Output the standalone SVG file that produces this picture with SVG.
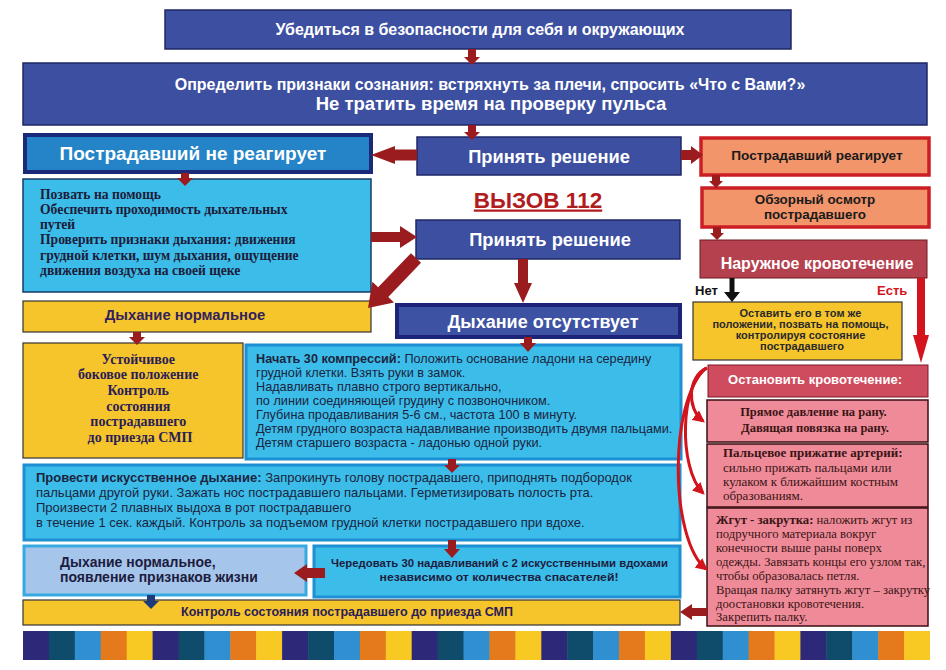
<svg xmlns="http://www.w3.org/2000/svg" width="946" height="670" viewBox="0 0 946 670">
<style>
.navy{fill:#3c4fa0;stroke:#1f2766;stroke-width:1.5}
.navyb{fill:#3d52a3;stroke:#1e237a;stroke-width:4}
.blue{fill:#2584c8;stroke:#1b2a78;stroke-width:4}
.cyan1{fill:#3cbde9;stroke:#173a66;stroke-width:1.5}
.cyan{fill:#3cbde9;stroke:#1d8fd2;stroke-width:3}
.ltblue{fill:#a6c5ea;stroke:#36a9e0;stroke-width:3}
.yel{fill:#f6c52b;stroke:#333;stroke-width:1.2}
.salmon{fill:#f2956a;stroke:#cc1f24;stroke-width:3.5}
.rose{fill:#b5404e;stroke:#6b1a22;stroke-width:1}
.rose2{fill:#cf4b5e;stroke:#7a1a25;stroke-width:1}
.pink{fill:#ef8b99;stroke:#3b0d12;stroke-width:1.5}
.s{font-family:"Liberation Sans",Arial,sans-serif}
.r{font-family:"Liberation Serif","Times New Roman",serif}
.b{font-weight:bold}
.w{fill:#ffffff}
.c{text-anchor:middle}
.arr{fill:#9b1c1f}
.curve{fill:none;stroke:#d3141c;stroke-width:3}
</style>
<defs>
<marker id="rh" viewBox="0 0 10 10" refX="8" refY="5" markerWidth="4" markerHeight="4" orient="auto" markerUnits="strokeWidth">
<path d="M0,0 L10,5 L0,10 z" fill="#d3141c"/>
</marker>
</defs>
<rect width="946" height="670" fill="#ffffff"/>

<g id="n-safety">
<rect class="navy" x="165" y="10" width="626" height="39"/>
<text class="s b w c" x="480" y="34.5" font-size="16">Убедиться в безопасности для себя и окружающих</text>
</g>
<g id="n-consciousness">
<rect class="navy" x="23" y="63" width="904" height="62"/>
<text class="s b w c" x="490" y="89.5" font-size="16">Определить признаки сознания: встряхнуть за плечи, спросить «Что с Вами?»</text>
<text class="s b w c" x="491" y="110" font-size="18.5">Не тратить время на проверку пульса</text>
</g>
<g id="n-noreact">
<rect class="blue" x="25" y="135" width="346" height="37"/>
<text class="s b w c" x="193" y="159.5" font-size="19">Пострадавший не реагирует</text>
</g>
<g id="n-decide1">
<rect class="navy" x="417" y="137" width="264" height="38"/>
<text class="s b w c" x="549" y="163" font-size="18.3">Принять решение</text>
</g>
<g id="n-react">
<rect class="salmon" x="701" y="138" width="228" height="37"/>
<text class="s b c" x="817" y="160" font-size="13.6" fill="#1a1a1a">Пострадавший реагирует</text>
</g>
<g id="n-survey">
<rect class="salmon" x="702" y="188" width="227" height="39"/>
<text class="s b c" x="815" y="204" font-size="13.4" fill="#1a1a1a">Обзорный осмотр</text>
<text class="s b c" x="815" y="218.5" font-size="13.4" fill="#1a1a1a">пострадавшего</text>
</g>
<g id="n-bleeding">
<rect class="rose" x="700" y="240" width="227" height="38"/>
<text class="s b w c" x="817" y="269" font-size="16">Наружное кровотечение</text>
</g>
<g id="n-help">
<rect class="cyan1" x="23" y="179" width="348" height="113"/>
<text class="r b" font-size="13.6" fill="#1c1c3a">
<tspan x="40" y="198.5">Позвать на помощь</tspan>
<tspan x="40" y="213.8">Обеспечить проходимость дыхательных</tspan>
<tspan x="40" y="229.1">путей</tspan>
<tspan x="40" y="244.4">Проверить признаки дыхания: движения</tspan>
<tspan x="40" y="259.7">грудной клетки, шум дыхания, ощущение</tspan>
<tspan x="40" y="275">движения воздуха на своей щеке</tspan>
</text>
</g>
<g id="n-call112">
<text class="s b c" x="538" y="207.5" font-size="22.5" fill="#b01c20" text-decoration="underline">ВЫЗОВ 112</text>
</g>
<g id="n-decide2">
<rect class="navy" x="416" y="220" width="264" height="39" fill="#3b55a5"/>
<text class="s b w c" x="550" y="245.5" font-size="18.3">Принять решение</text>
</g>
<g id="n-breathok">
<rect class="yel" x="23" y="301" width="348" height="31"/>
<text class="s b c" x="185" y="319.5" font-size="14.8" fill="#33215e">Дыхание нормальное</text>
</g>
<g id="n-nobreath">
<rect class="navyb" x="397" y="305" width="283" height="32"/>
<text class="s b w c" x="543" y="327.5" font-size="18">Дыхание отсутствует</text>
</g>
<g id="n-recovery">
<rect class="yel" x="23" y="343" width="220" height="115"/>
<text class="r b c" font-size="14" fill="#2b1d57">
<tspan x="140" y="363.5">Устойчивое</tspan>
<tspan x="140" y="379">боковое положение</tspan>
<tspan x="140" y="395">Контроль</tspan>
<tspan x="140" y="410.5">состояния</tspan>
<tspan x="140" y="425.5">пострадавшего</tspan>
<tspan x="140" y="441.5">до приезда СМП</tspan>
</text>
</g>
<g id="n-compress">
<rect class="cyan" x="246" y="345" width="435" height="114"/>
<text class="s" font-size="12.7" fill="#1b2440">
<tspan x="256" y="363"><tspan font-weight="bold">Начать 30 компрессий:</tspan> Положить основание ладони на середину</tspan>
<tspan x="256" y="377"> грудной клетки. Взять руки в замок.</tspan>
<tspan x="256" y="391">Надавливать плавно строго вертикально,</tspan>
<tspan x="256" y="405">по линии соединяющей грудину с позвоночником.</tspan>
<tspan x="256" y="419">Глубина продавливания 5-6 см., частота 100 в минуту.</tspan>
<tspan x="256" y="433">Детям грудного возраста надавливание производить двумя пальцами.</tspan>
<tspan x="256" y="447">Детям старшего возраста - ладонью одной руки.</tspan>
</text>
</g>
<g id="n-ventilate">
<rect class="cyan" x="24" y="465" width="656" height="75"/>
<text class="s" font-size="13" fill="#1b2440">
<tspan x="36" y="482"><tspan font-weight="bold">Провести искусственное дыхание:</tspan> Запрокинуть голову пострадавшего, приподнять подбородок</tspan>
<tspan x="36" y="497">пальцами другой руки. Зажать нос пострадавшего пальцами. Герметизировать полость рта.</tspan>
<tspan x="36" y="512"> Произвести 2 плавных выдоха в рот пострадавшего</tspan>
<tspan x="36" y="527">в течение 1 сек. каждый. Контроль за подъемом грудной клетки пострадавшего при вдохе.</tspan>
</text>
</g>
<g id="n-alive">
<rect class="ltblue" x="24" y="546" width="282" height="49"/>
<text class="s b" font-size="14" fill="#1c1c40">
<tspan x="60" y="567">Дыхание нормальное,</tspan>
<tspan x="60" y="582">появление признаков жизни</tspan>
</text>
</g>
<g id="n-alternate">
<rect class="cyan" x="314" y="546" width="366" height="51"/>
<text class="s b c" font-size="11" fill="#1c1c40">
<tspan x="501" y="567" textLength="337" lengthAdjust="spacingAndGlyphs">Чередовать 30 надавливаний с 2 искусственными вдохами</tspan>
<tspan x="499" y="581" textLength="239" lengthAdjust="spacingAndGlyphs">независимо от количества спасателей!</tspan>
</text>
</g>
<g id="n-monitor">
<rect class="yel" x="23" y="600" width="657" height="25"/>
<text class="s b c" x="347" y="616" font-size="13" fill="#2b1d57" textLength="332" lengthAdjust="spacingAndGlyphs">Контроль состояния пострадавшего до приезда СМП</text>
</g>
<g id="n-leave">
<rect class="yel" x="693" y="302" width="209" height="58"/>
<text class="s b c" font-size="11" fill="#2a2a2a">
<tspan x="802" y="317">Оставить его в том же</tspan>
<tspan x="802" y="328">положении, позвать на помощь,</tspan>
<tspan x="802" y="339">контролируя состояние</tspan>
<tspan x="802" y="350">пострадавшего</tspan>
</text>
</g>
<g id="n-stop">
<rect class="rose2" x="708" y="365" width="220" height="32"/>
<text class="s b w c" x="815" y="384" font-size="13">Остановить кровотечение:</text>
</g>
<g id="n-pressure">
<rect class="pink" x="707" y="400" width="221" height="42"/>
<text class="r b c" font-size="12.5" fill="#3a1515">
<tspan x="815" y="416">Прямое давление на рану.</tspan>
<tspan x="815" y="432">Давящая повязка на рану.</tspan>
</text>
</g>
<g id="n-artery">
<rect class="pink" x="707" y="444" width="221" height="63"/>
<text class="r" font-size="13" fill="#3a1515">
<tspan x="723" y="457" font-weight="bold">Пальцевое прижатие артерий:</tspan>
<tspan x="723" y="472">сильно прижать пальцами или</tspan>
<tspan x="723" y="486">кулаком к ближайшим костным</tspan>
<tspan x="723" y="500">образованиям.</tspan>
</text>
</g>
<g id="n-tourniquet">
<rect class="pink" x="707" y="508" width="221" height="118"/>
<text class="r" font-size="12.7" fill="#3a1515">
<tspan x="716" y="524"><tspan font-weight="bold">Жгут - закрутка:</tspan> наложить жгут из</tspan>
<tspan x="716" y="538">подручного материала вокруг</tspan>
<tspan x="716" y="552">конечности выше раны поверх</tspan>
<tspan x="716" y="566">одежды. Завязать концы его узлом так,</tspan>
<tspan x="716" y="580">чтобы образовалась петля.</tspan>
<tspan x="716" y="594">Вращая палку затянуть жгут – закрутку</tspan>
<tspan x="716" y="607.5">доостановки кровотечения.</tspan>
<tspan x="716" y="621">Закрепить палку.</tspan>
</text>
</g>
<g id="n-labels">
<text class="s b" x="695" y="295" font-size="13" fill="#111">Нет</text>
<text class="s b" x="877" y="295" font-size="13" fill="#d3141c">Есть</text>
</g>

<g id="connectors">
<polygon class="arr" points="468,49 476,49 476,57 480,57 472,65 464,57 468,57"/>
<polygon class="arr" points="468,125 476,125 476,132 480,132 472,140 464,132 468,132"/>
<polygon class="arr" points="417,149.5 395,149.5 395,146 371,155 395,164 395,160.5 417,160.5"/>
<polygon class="arr" points="681,150 691,150 691,146 703,155 691,164 691,160 681,160"/>
<polygon class="arr" points="712,175 720,175 720,181 723,181 716,188 709,181 712,181"/>
<polygon class="arr" points="713,227 721,227 721,233 724,233 717,240 710,233 713,233"/>
<polygon class="arr" points="181,173 189,173 189,178 193,178 185,186 177,178 181,178"/>
<polygon class="arr" points="371,232 400,232 400,226 417,237 400,248 400,242 371,242"/>
<polygon class="arr" points="518,259 528,259 528,283 532,283 523,303 514,283 518,283"/>
<polygon class="arr" points="410.95,253.15 378.15,287.25 372.4,281.7 368,308 394,302.5 388.25,296.95 421.05,262.85"/>
<polygon class="arr" points="133,332 141,332 141,337 145,337 137,345 129,337 133,337"/>
<polygon class="arr" points="524,337 532,337 532,343 536,343 528,352 520,343 524,343"/>
<polygon class="arr" points="448,459 456,459 456,465 460,465 452,473 444,465 448,465"/>
<polygon class="arr" points="448,540 456,540 456,549 460,549 452,558 444,549 448,549"/>
<polygon class="arr" points="325,568 307,568 307,564 294,573 307,582 307,578 325,578"/>
<polygon points="147,595 155,595 155,601 159,601 151,609 143,601 147,601" fill="#1f3a7a"/>
<polygon class="arr" points="707,608 692,608 692,604 680,612 692,620 692,616 707,616"/>
<polygon points="729.5,278 734.5,278 734.5,292 740,292 732,302 724,292 729.5,292" fill="#111"/>
<polygon points="917,278 925,278 925,335 929,335 921,363 913,335 917,335" fill="#d3141c"/>
<path class="curve" d="M707,368 C688,376 686,408 703,421" marker-end="url(#rh)"/>
<path class="curve" d="M707,368 C680,382 678,468 703,493" marker-end="url(#rh)"/>
<path class="curve" d="M706,368 C668,402 670,540 706,569" marker-end="url(#rh)"/>
</g>

<g id="stripe">
<rect x="23" y="631" width="26.4" height="29" fill="#2e2878"/>
<rect x="48.9" y="631" width="26.4" height="29" fill="#0f4c6b"/>
<rect x="74.8" y="631" width="26.4" height="29" fill="#2f8fd0"/>
<rect x="100.7" y="631" width="26.4" height="29" fill="#e47a1c"/>
<rect x="126.7" y="631" width="26.4" height="29" fill="#f8c823"/>
<rect x="152.6" y="631" width="26.4" height="29" fill="#2e2878"/>
<rect x="178.5" y="631" width="26.4" height="29" fill="#0f4c6b"/>
<rect x="204.4" y="631" width="26.4" height="29" fill="#2f8fd0"/>
<rect x="230.3" y="631" width="26.4" height="29" fill="#e47a1c"/>
<rect x="256.2" y="631" width="26.4" height="29" fill="#f8c823"/>
<rect x="282.1" y="631" width="26.4" height="29" fill="#2e2878"/>
<rect x="308.1" y="631" width="26.4" height="29" fill="#0f4c6b"/>
<rect x="334" y="631" width="26.4" height="29" fill="#2f8fd0"/>
<rect x="359.9" y="631" width="26.4" height="29" fill="#e47a1c"/>
<rect x="385.8" y="631" width="26.4" height="29" fill="#f8c823"/>
<rect x="411.7" y="631" width="26.4" height="29" fill="#2e2878"/>
<rect x="437.6" y="631" width="26.4" height="29" fill="#0f4c6b"/>
<rect x="463.5" y="631" width="26.4" height="29" fill="#2f8fd0"/>
<rect x="489.5" y="631" width="26.4" height="29" fill="#e47a1c"/>
<rect x="515.4" y="631" width="26.4" height="29" fill="#f8c823"/>
<rect x="541.3" y="631" width="26.4" height="29" fill="#2e2878"/>
<rect x="567.2" y="631" width="26.4" height="29" fill="#0f4c6b"/>
<rect x="593.1" y="631" width="26.4" height="29" fill="#2f8fd0"/>
<rect x="619" y="631" width="26.4" height="29" fill="#e47a1c"/>
<rect x="644.9" y="631" width="26.4" height="29" fill="#f8c823"/>
<rect x="670.9" y="631" width="26.4" height="29" fill="#2e2878"/>
<rect x="696.8" y="631" width="26.4" height="29" fill="#0f4c6b"/>
<rect x="722.7" y="631" width="26.4" height="29" fill="#2f8fd0"/>
<rect x="748.6" y="631" width="26.4" height="29" fill="#e47a1c"/>
<rect x="774.5" y="631" width="26.4" height="29" fill="#f8c823"/>
<rect x="800.4" y="631" width="26.4" height="29" fill="#2e2878"/>
<rect x="826.3" y="631" width="26.4" height="29" fill="#0f4c6b"/>
<rect x="852.3" y="631" width="26.4" height="29" fill="#2f8fd0"/>
<rect x="878.2" y="631" width="26.4" height="29" fill="#e47a1c"/>
<rect x="904.1" y="631" width="25.9" height="29" fill="#f8c823"/>
</g>
</svg>
